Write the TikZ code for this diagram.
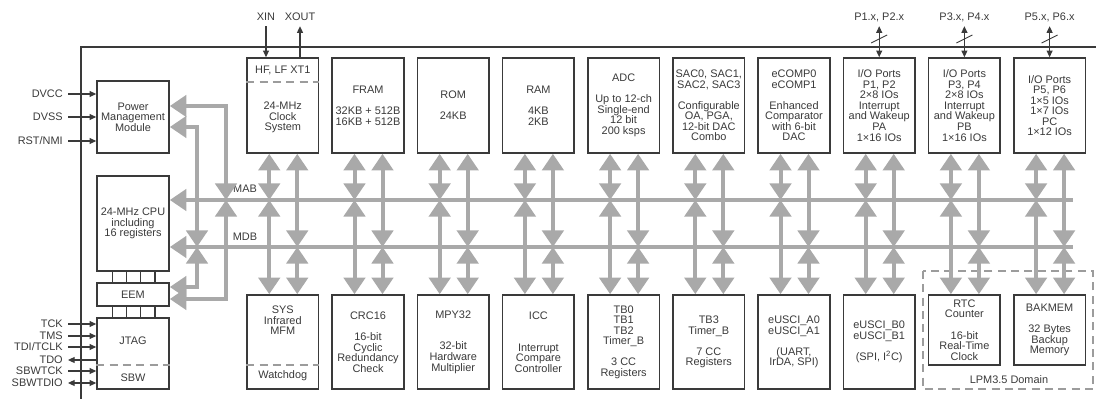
\documentclass[tikz,border=0pt]{standalone}
\usepackage{fontspec}
\setmainfont{Liberation Sans}
\usetikzlibrary{arrows.meta,calc}
\definecolor{ink}{HTML}{3A3A3A}
\definecolor{busc}{HTML}{A9A9A9}
\definecolor{dashc}{HTML}{9C9C9C}
\newcommand\blk{\\[7.9pt]}
\newcommand\dfont{\fontsize{8.2}{7.9}\selectfont}
\lineskiplimit=-20pt
\begin{document}
\begin{tikzpicture}[x=0.75pt,y=-0.75pt,
  every node/.style={font=\dfont, text=ink},
  box/.style={draw=ink, line width=1.2pt, fill=white, align=center, inner sep=0pt, minimum width=53.625pt},
  topbox/.style={box, minimum height=71.25pt},
  botbox/.style={box, minimum height=70.5pt},
  lpmbox/.style={box, minimum height=52.5pt},
  txt/.style={align=center, inner sep=0pt},
  bus/.style={draw=busc, line width=3pt, >={Triangle[width=16pt,length=12.5pt]}},
  sig/.style={draw=ink, line width=0.8pt, >={Triangle[width=4.5pt,length=5pt]}},
  sep/.style={draw=dashc, line width=1pt, dash pattern=on 6pt off 4pt},
  lab/.style={inner sep=0pt, text height=5.9pt, text depth=0pt},
  link/.style={draw=ink, line width=0.8pt},
]
\useasboundingbox (0,0) rectangle (1096,399);
% chip outline
\draw[ink, line width=1.1pt] (81,399) -- (81,47) -- (1096,47);

% left column
\node[box, minimum width=54pt, minimum height=54pt] (pmm) at (133,117) {Power\\Management\\Module};
\node[box, minimum width=54pt, minimum height=71.25pt] (cpu) at (133,223.5) {24-MHz CPU\\including\\16 registers};
\node[box, minimum width=54pt, minimum height=17.25pt] (eem) at (133,294.5) {EEM};
\node[box, minimum width=54pt, minimum height=53.25pt] (jtag) at (133,353.5) {};
\draw[sep] (jtag.west |- 0,365) -- (jtag.east |- 0,365);
\node[txt] (jtagt) at (133,341) {JTAG};
\node[txt] (sbwt) at (133,378) {SBW};

% top row
\node[topbox] (t0) at (282.75,105.5) {};
\node[topbox] (t1) at (368,105.5) {FRAM\blk 32KB + 512B\\16KB + 512B};
\node[topbox] (t2) at (453.2,105.5) {ROM\blk 24KB};
\node[topbox] (t3) at (538.4,105.5) {RAM\blk 4KB\\2KB};
\node[topbox] (t4) at (623.6,105.5) {ADC\blk Up to 12-ch\\Single-end\\12 bit\\200 ksps};
\node[topbox] (t5) at (708.8,105.5) {SAC0, SAC1,\\SAC2, SAC3\blk Configurable\\OA, PGA,\\12-bit DAC\\Combo};
\node[topbox] (t6) at (794,105.5) {eCOMP0\\eCOMP1\blk Enhanced\\Comparator\\with 6-bit\\DAC};
\node[topbox] (t7) at (879.2,105.5) {I/O Ports\\P1, P2\\2×8 IOs\\Interrupt\\and Wakeup\\PA\\1×16 IOs};
\node[topbox] (t8) at (964.4,105.5) {I/O Ports\\P3, P4\\2×8 IOs\\Interrupt\\and Wakeup\\PB\\1×16 IOs};
\node[topbox] (t9) at (1049.6,105.5) {I/O Ports\\P5, P6\\1×5 IOs\\1×7 IOs\\PC\\1×12 IOs};
\draw[sep] (t0.west |- 0,82) -- (t0.east |- 0,82);
\node[txt] (clka) at (282.75,70) {HF, LF XT1};
\node[txt] (clkb) at (282.75,117.5) {24-MHz\\Clock\\System};

% bottom row
\node[botbox] (b0) at (282.75,342) {};
\node[botbox] (b1) at (368,342) {CRC16\blk 16-bit\\Cyclic\\Redundancy\\Check};
\node[botbox] (b2) at (453.2,342) {MPY32\\[15.8pt]32-bit\\Hardware\\Multiplier};
\node[botbox] (b3) at (538.4,342) {ICC\\[15.8pt]Interrupt\\Compare\\Controller};
\node[botbox] (b4) at (623.6,342) {TB0\\TB1\\TB2\\Timer\_B\blk 3 CC\\Registers};
\node[botbox] (b5) at (708.8,342) {TB3\\Timer\_B\blk 7 CC\\Registers};
\node[botbox] (b6) at (794,342) {eUSCI\_A0\\eUSCI\_A1\blk (UART,\\IrDA, SPI)};
\node[botbox] (b7) at (879.2,342) {eUSCI\_B0\\eUSCI\_B1\blk (SPI, I\textsuperscript{2}C)};
\node[lpmbox] (b8) at (964.4,330) {RTC\\Counter\blk 16-bit\\Real-Time\\Clock};
\node[lpmbox] (b9) at (1049.6,330) {BAKMEM\blk 32 Bytes\\Backup\\Memory};
\draw[sep] (b0.west |- 0,365) -- (b0.east |- 0,365);
\node[txt] (sysa) at (282.75,320.5) {SYS\\Infrared\\MFM};
\node[txt] (sysb) at (282.75,376) {Watchdog};

% LPM3.5 domain
\draw[sep] (923,271) rectangle (1093,389);
\node[txt] (lpm) at (1009,380) {LPM3.5 Domain};

% buses
\coordinate (mabR) at (1073,200);
\coordinate (mdbR) at (1073,247);
\draw[bus,<-] (cpu.east |- mabR) -- (mabR);
\draw[bus,<-] (cpu.east |- mdbR) -- (mdbR);
\node[lab] (mab) at (245,189) {MAB};
\node[lab] (mdb) at (245,237) {MDB};

\foreach \i in {0,...,9}{
  \coordinate (tl\i) at ([xshift=-10.125pt]t\i.south);
  \coordinate (tr\i) at ([xshift=10.875pt]t\i.south);
  \coordinate (bl\i) at ([xshift=-10.125pt]b\i.north);
  \coordinate (br\i) at ([xshift=10.875pt]b\i.north);
  \draw[bus,<->] (tl\i) -- (tl\i |- mabR);
  \draw[bus,<->] (tr\i) -- (tr\i |- mdbR);
  \draw[bus,<->] (bl\i |- mabR) -- (bl\i);
  \draw[bus,<->] (br\i |- mdbR) -- (br\i);
}

% PMM / EEM bus taps
\coordinate (jA) at (226,200);
\coordinate (jB) at (197,247);
\draw[bus,<->] ([yshift=8.25pt]pmm.east) -| (jA);
\draw[bus,<->] ([yshift=-7.5pt]pmm.east) -| (jB);
\draw[bus,<->] (jA) |- ([yshift=-3.375pt]eem.east);
\draw[bus,<->] (jB) |- ([yshift=5.625pt]eem.east);

% CPU-EEM-JTAG links
\foreach \x in {112.3,126.7,140.7,155}{
  \draw[link] (cpu.south -| \x,0) -- (eem.north -| \x,0);
  \draw[link] (eem.south -| \x,0) -- (jtag.north -| \x,0);
}

% power signals
\node[lab, anchor=east] (sDVCC) at (63,94) {DVCC};
\node[lab, anchor=east] (sDVSS) at (63,117) {DVSS};
\node[lab, anchor=east] (sRST) at (63,141) {RST/NMI};
\foreach \s in {sDVCC,sDVSS,sRST}{
  \draw[sig,->] ([xshift=3.75pt]\s.east) -- (\s -| pmm.west);
}

% JTAG signals
\node[lab, anchor=east] (sTCK) at (63,324) {TCK};
\node[lab, anchor=east] (sTMS) at (63,336) {TMS};
\node[lab, anchor=east] (sTDI) at (63,347) {TDI/TCLK};
\node[lab, anchor=east] (sTDO) at (63,360) {TDO};
\node[lab, anchor=east] (sSCK) at (63,371) {SBWTCK};
\node[lab, anchor=east] (sSIO) at (63,383) {SBWTDIO};
\foreach \s in {sTCK,sTMS,sTDI,sSCK}{
  \draw[sig,->] ([xshift=3.75pt]\s.east) -- (\s -| jtag.west);
}
\draw[sig,<-] ([xshift=3.75pt]sTDO.east) -- (sTDO -| jtag.west);
\draw[sig,<->] ([xshift=3.75pt]sSIO.east) -- (sSIO -| jtag.west);

% clock pins
\node[lab] (xin) at (266,17) {XIN};
\node[lab] (xout) at (300,17) {XOUT};
\draw[sig,->] ([yshift=-3.75pt]xin.south) -- (xin |- t0.north);
\draw[sig,->] (xout |- t0.north) -- ([yshift=-3.75pt]xout.south);

% port pins
\node[lab] (p12) at (t7.north |- 0,17) {P1.x, P2.x};
\node[lab] (p34) at (t8.north |- 0,17) {P3.x, P4.x};
\node[lab] (p56) at (t9.north |- 0,17) {P5.x, P6.x};
\foreach \p/\t in {p12/t7,p34/t8,p56/t9}{
  \draw[sig,<->] ([yshift=-3.75pt]\p.south) -- (\p |- \t.north);
  \coordinate (sl\p) at (\p |- 0,39);
  \draw[ink, line width=0.7pt] ([shift={(-8,4)}]sl\p) -- ([shift={(8,-4)}]sl\p);
}
\end{tikzpicture}
\end{document}
